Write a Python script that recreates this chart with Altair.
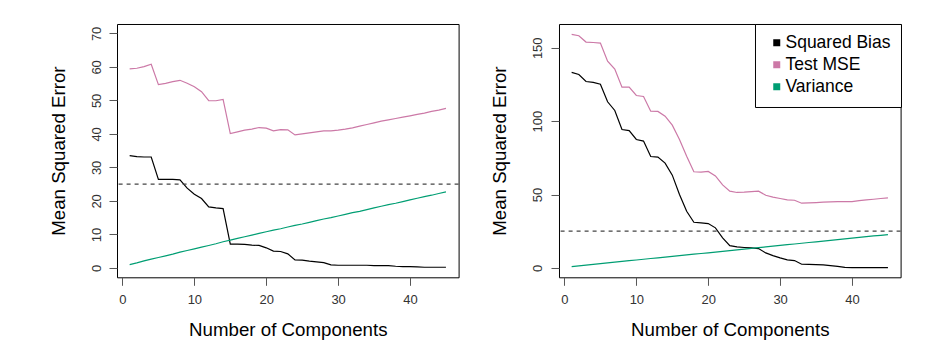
import altair as alt
import pandas as pd

components = list(range(1, 46))

left_bias = [33.5, 33.2, 33.1, 33.1, 26.4, 26.4, 26.4, 26.3, 23.8, 22.0,
             20.7, 18.2, 17.9, 17.7, 7.1, 7.1, 7.0, 6.8, 6.7, 6.0,
             5.0, 4.9, 4.2, 2.4, 2.3, 2.0, 1.8, 1.6, 0.9, 0.8,
             0.8, 0.8, 0.8, 0.8, 0.7, 0.7, 0.7, 0.5, 0.4, 0.4,
             0.3, 0.2, 0.2, 0.2, 0.2]
left_mse = [59.4, 59.6, 60.1, 60.8, 54.7, 55.1, 55.6, 56.0, 55.1, 54.1,
            52.6, 49.9, 49.9, 50.3, 40.1, 40.6, 41.1, 41.4, 41.9, 41.7,
            40.9, 41.3, 41.2, 39.7, 40.0, 40.3, 40.6, 40.9, 40.9, 41.1,
            41.4, 41.8, 42.3, 42.8, 43.3, 43.8, 44.2, 44.6, 45.0, 45.4,
            45.8, 46.2, 46.7, 47.1, 47.6]
left_var = [1.0, 1.5, 2.1, 2.6, 3.1, 3.6, 4.1, 4.7, 5.2, 5.7,
            6.2, 6.7, 7.2, 7.8, 8.3, 8.8, 9.3, 9.8, 10.3, 10.8,
            11.3, 11.7, 12.2, 12.7, 13.1, 13.6, 14.1, 14.6, 15.0, 15.5,
            16.0, 16.5, 16.9, 17.4, 17.9, 18.4, 18.9, 19.3, 19.8, 20.3,
            20.8, 21.3, 21.7, 22.2, 22.7]

right_bias = [133.2, 131.8, 127.0, 126.4, 125.2, 113.2, 107.3, 94.3, 93.6, 87.5,
              86.4, 75.9, 75.5, 71.4, 63.2, 50.0, 38.6, 31.1, 30.7, 30.2,
              27.3, 20.5, 15.2, 14.3, 13.9, 13.6, 13.2, 10.2, 8.4, 6.8,
              5.5, 5.0, 2.5, 2.4, 2.2, 2.0, 1.6, 1.1, 0.3, 0.2,
              0.2, 0.2, 0.2, 0.2, 0.2]
right_mse = [159.1, 158.2, 153.9, 153.6, 153.2, 140.9, 135.5, 123.2, 123.2, 117.5,
             116.8, 106.8, 106.6, 103.4, 97.3, 87.5, 76.1, 65.5, 65.2, 65.7,
             62.7, 56.6, 52.3, 51.4, 51.6, 52.0, 52.3, 49.5, 48.2, 47.3,
             46.4, 46.1, 44.1, 44.3, 44.5, 44.8, 45.0, 45.2, 45.2, 45.2,
             45.9, 46.4, 46.8, 47.3, 47.7]
right_var = [0.9, 1.4, 1.9, 2.4, 2.9, 3.4, 3.9, 4.4, 4.9, 5.4,
             5.9, 6.4, 6.9, 7.4, 7.9, 8.4, 8.9, 9.4, 9.8, 10.3,
             10.8, 11.3, 11.8, 12.3, 12.8, 13.3, 13.8, 14.3, 14.8, 15.3,
             15.8, 16.3, 16.8, 17.3, 17.8, 18.3, 18.8, 19.3, 19.8, 20.3,
             20.8, 21.3, 21.8, 22.2, 22.7]

irreducible_error = 25
series_names = ["Squared Bias", "Test MSE", "Variance"]
series_colors = ["#000000", "#CC79A7", "#009E73"]
x_ticks = [0, 10, 20, 30, 40]
left_y_ticks = [0, 10, 20, 30, 40, 50, 60, 70]
right_y_ticks = [0, 50, 100, 150]

FONT = "Liberation Sans"
W, H = 341.6, 253.3


def long_frame(bias, mse, var):
    rows = []
    for name, vals in zip(series_names, [bias, mse, var]):
        for c, v in zip(components, vals):
            rows.append({"k": c, "value": v, "series": name})
    return pd.DataFrame(rows)


def panel(bias, mse, var, ydomain, yticks, show_legend):
    df = long_frame(bias, mse, var)
    yscale = alt.Scale(domain=ydomain, nice=False, zero=False)
    yaxis = alt.Axis(values=yticks, title="Mean Squared Error", format="d",
                     labelAngle=270, labelOverlap=False)
    x = alt.X("k:Q", scale=alt.Scale(domain=[-0.76, 46.76], nice=False, zero=False),
              axis=alt.Axis(values=x_ticks, title="Number of Components", format="d",
                            labelOverlap=False))
    if show_legend:
        legend = alt.Legend(title=None, orient="top-right", offset=0,
                            symbolType="square", symbolSize=9, symbolStrokeWidth=4,
                            labelFontSize=17.5, labelFont=FONT, labelColor="#000000",
                            padding=10, symbolOffset=3, labelOffset=0, rowPadding=2,
                            fillColor="white", strokeColor="black", cornerRadius=0)
    else:
        legend = None
    color = alt.Color("series:N", scale=alt.Scale(domain=series_names, range=series_colors),
                      legend=legend, sort=series_names)
    lines = alt.Chart(df).mark_line(strokeWidth=1.2).encode(
        x=x, y=alt.Y("value:Q", scale=yscale, axis=yaxis, title="Mean Squared Error"),
        color=color, detail="series:N",
    )
    rule = alt.Chart(pd.DataFrame({"e": [irreducible_error]})).mark_rule(
        color="#444444", strokeDash=[4, 4], strokeWidth=1.3
    ).encode(y=alt.Y("e:Q", scale=yscale, axis=yaxis, title="Mean Squared Error"))
    return alt.layer(lines, rule).properties(width=W, height=H)


left = panel(left_bias, left_mse, left_var, [-2.8, 72.8], left_y_ticks, False)
right = panel(right_bias, right_mse, right_var, [-6.4, 166.2], right_y_ticks, True)

chart = alt.hconcat(left, right, spacing=30).resolve_scale(
    color="independent", x="independent", y="independent"
).properties(
    padding={"left": 40, "top": 15, "right": 5, "bottom": 5}
).configure_view(
    stroke="black", strokeWidth=1
).configure_axis(
    domain=False, grid=False, tickSize=8, tickColor="#555555", tickWidth=1,
    labelFont=FONT, labelFontSize=13, labelColor="#333333", labelPadding=8,
    titleFont=FONT, titleFontSize=18.7, titleFontWeight="normal", titleColor="#000000",
    titlePadding=14
).configure_axisY(
    labelPadding=6, titlePadding=22
).configure_axisX(
    labelPadding=8, titlePadding=14
)

chart.save("out.html", embed_options={"renderer": "svg", "actions": False})
